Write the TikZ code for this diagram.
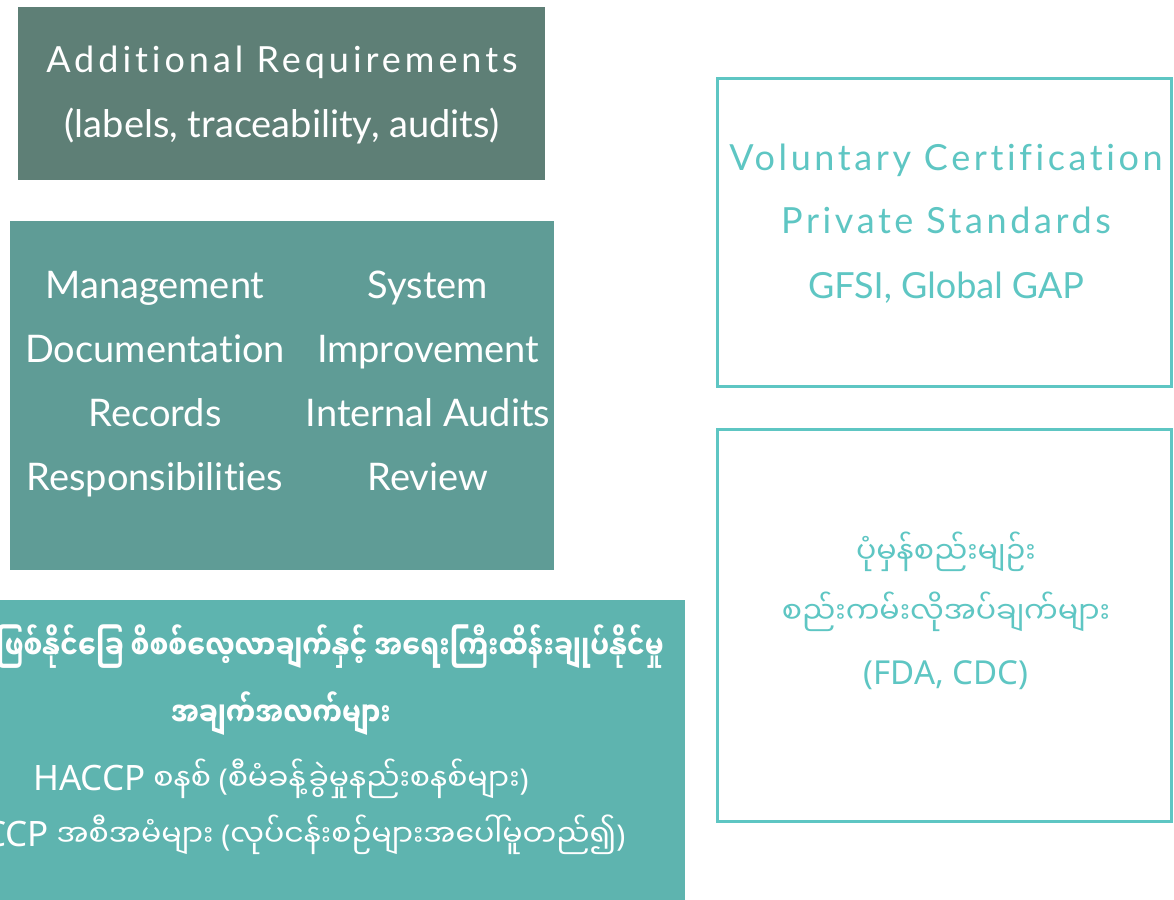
\documentclass[tikz,border=0pt]{standalone}
\usepackage{fontspec}
\setmainfont{Lato}[Ligatures=CommonOff]
\newfontfamily\latsp{Lato}[Ligatures=CommonOff,LetterSpace=11]
\newfontfamily\latspd{Lato}[Ligatures=CommonOff,LetterSpace=10]
\newfontfamily\mya{Noto Sans Myanmar UI}[Script=Myanmar]
\newfontfamily\myab{Noto Sans Myanmar UI}[Script=Myanmar,FakeStretch=0.8]
\newfontfamily\lat{Noto Sans}
\definecolor{boxA}{HTML}{5E7F76}
\definecolor{boxB}{HTML}{5F9C96}
\definecolor{boxC}{HTML}{5EB4AF}
\definecolor{teal}{HTML}{5EC6C3}
\tikzset{
  fillbox/.style={rectangle, inner sep=0pt, outer sep=0pt},
  linebox/.style={rectangle, draw=teal, line width=3pt, inner sep=0pt, outer sep=0pt},
  wt/.style={text=white, inner sep=0pt, anchor=base},
  tt/.style={text=teal, inner sep=0pt, anchor=base},
}
\begin{document}
\begin{tikzpicture}[x=1pt,y=-1pt]
\useasboundingbox (0,0) rectangle (1174,899);
\fill[white] (0,0) rectangle (1174,899);
% boxes
\node[fillbox, fill=boxA, minimum width=527pt, minimum height=173pt] (bA) at (281.5,93.5) {};
\node[fillbox, fill=boxB, minimum width=544pt, minimum height=349pt] (bB) at (282,395.5) {};
\node[fillbox, fill=boxC, minimum width=808pt, minimum height=310pt] (bC) at (281,755) {};
\node[linebox, minimum width=454pt, minimum height=308pt] (bD) at (944.5,232.5) {};
\node[linebox, minimum width=454pt, minimum height=392pt] (bE) at (944.5,625.5) {};
% box A text
\node[wt, font=\latsp\fontsize{36}{42}\selectfont] (a1) at (282,73) {Additional Requirements};
\node[wt, font=\fontsize{38}{44}\selectfont] (a2) at (282,137) {(labels, traceability, audits)};
% box B text
\begin{scope}[every node/.style={wt, font=\fontsize{38}{44}\selectfont}]
\node (b1) at (155,298) {Management};
\node (b2) at (155,362) {Documentation};
\node (b3) at (155,426) {Records};
\node (b4) at (155,490) {Responsibilities};
\node (b5) at (428,298) {System};
\node (b6) at (428,362) {Improvement};
\node (b7) at (428,426) {Internal Audits};
\node (b8) at (428,490) {Review};
\end{scope}
% box C text
\node[wt, font=\myab\bfseries\fontsize{33}{38}\selectfont] (c1) at (277,659) {အန္တရာယ်ဖြစ်နိုင်ခြေ စိစစ်လေ့လာချက်နှင့် အရေးကြီးထိန်းချုပ်နိုင်မှု};
\node[wt, font=\myab\bfseries\fontsize{33}{38}\selectfont] (c2) at (281,726) {အချက်အလက်များ};
\node[wt, font=\mya\fontsize{30}{36}\selectfont] (c3) at (281,790) {{\lat\fontsize{35}{40}\selectfont HACCP} စနစ် {\lat (}စီမံခန့်ခွဲမှုနည်းစနစ်များ{\lat )}};
\node[wt, font=\mya\fontsize{30}{36}\selectfont] (c4) at (281,846) {{\lat\fontsize{35}{40}\selectfont HACCP} အစီအမံများ {\lat (}လုပ်ငန်းစဉ်များအပေါ်မူတည်၍{\lat )}};
% box D text
\node[tt, font=\latspd\fontsize{36}{42}\selectfont] (d1) at (946,170) {Voluntary Certification};
\node[tt, font=\latspd\fontsize{36}{42}\selectfont] (d2) at (946,233) {Private Standards};
\node[tt, font=\fontsize{36}{42}\selectfont] (d3) at (946,298) {GFSI, Global GAP};
% box E text
\node[tt, font=\mya\fontsize{30}{36}\selectfont] (e1) at (946,563) {ပုံမှန်စည်းမျဉ်း};
\node[tt, font=\mya\fontsize{30}{36}\selectfont] (e2) at (946,623) {စည်းကမ်းလိုအပ်ချက်များ};
\node[tt, font=\lat\fontsize{33}{38}\selectfont] (e3) at (946,684) {(FDA, CDC)};
\end{tikzpicture}
\end{document}
